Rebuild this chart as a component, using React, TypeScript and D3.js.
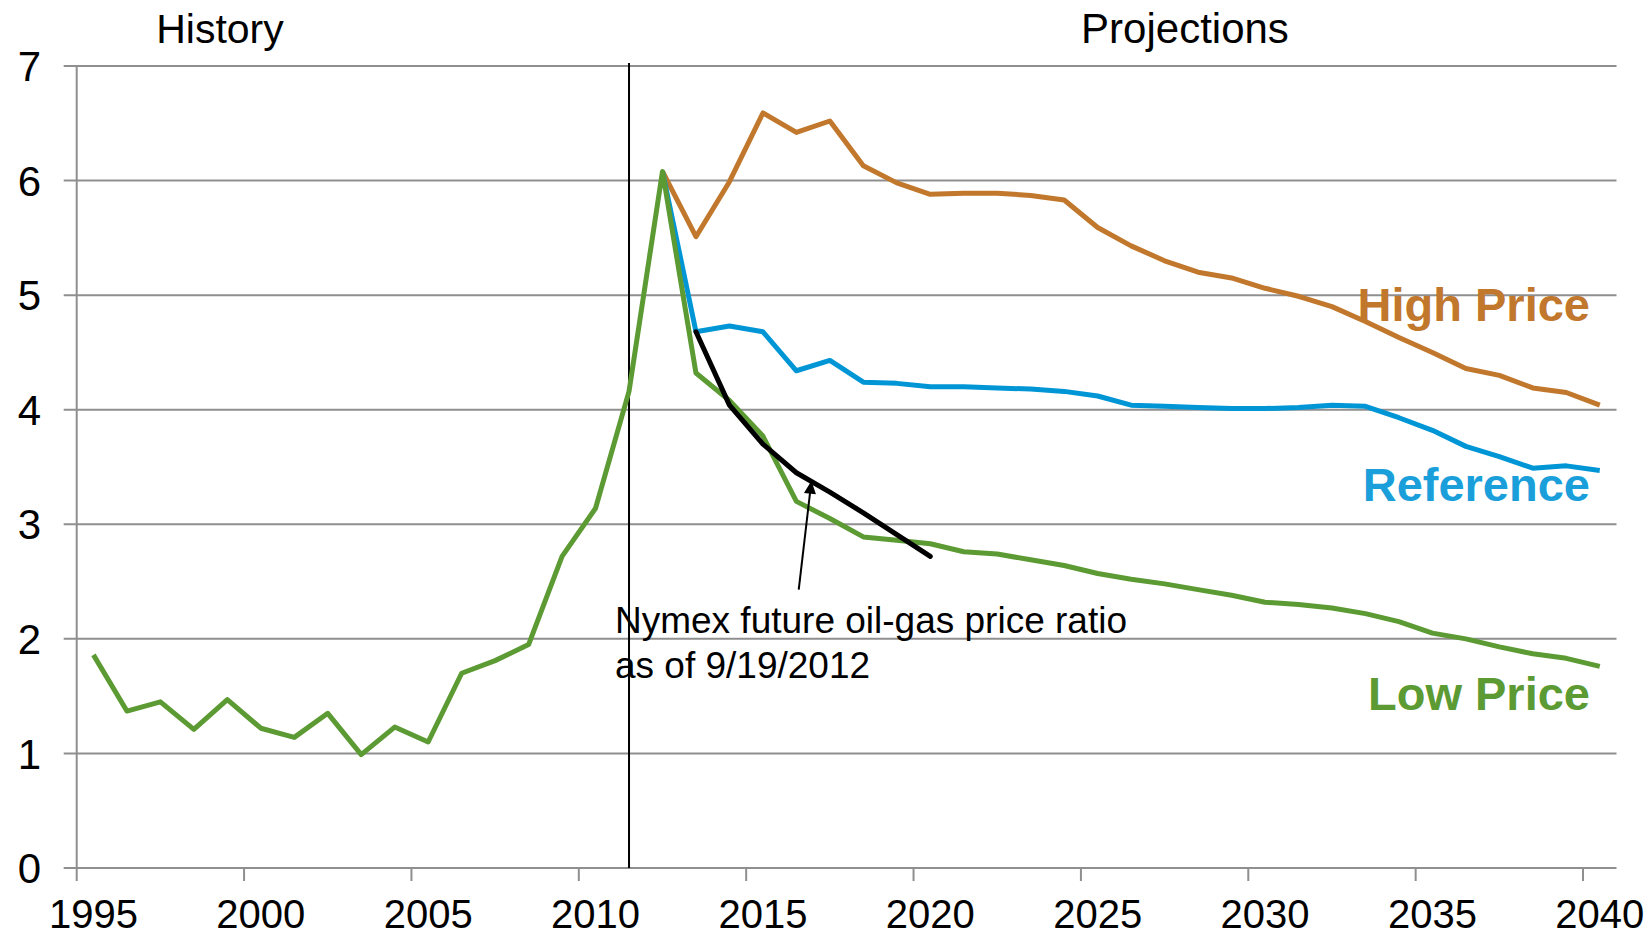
import React from "react";
import * as d3 from "d3";

// oil-to-gas price ratio, history + AEO projections
const years = d3.range(1995, 2041);
const historyValues = [1.86, 1.37, 1.45, 1.21, 1.47, 1.22, 1.14, 1.35, 0.99, 1.23, 1.1, 1.7, 1.81, 1.95, 2.72, 3.14, 4.16, 6.08]; // 1995-2012
const highPrice = [6.08, 5.51, 5.99, 6.59, 6.42, 6.52, 6.13, 5.98, 5.88, 5.89, 5.89, 5.87, 5.83, 5.59, 5.43, 5.3, 5.2, 5.15, 5.06, 4.99, 4.9, 4.77, 4.63, 4.5, 4.36, 4.3, 4.19, 4.15, 4.04]; // 2012-2040
const reference = [6.08, 4.68, 4.73, 4.68, 4.34, 4.43, 4.24, 4.23, 4.2, 4.2, 4.19, 4.18, 4.16, 4.12, 4.04, 4.03, 4.02, 4.01, 4.01, 4.02, 4.04, 4.03, 3.93, 3.82, 3.68, 3.59, 3.49, 3.51, 3.47]; // 2012-2040
const lowPrice = [4.32, 4.08, 3.77, 3.2, 3.05, 2.89, 2.86, 2.83, 2.76, 2.74, 2.69, 2.64, 2.57, 2.52, 2.48, 2.43, 2.38, 2.32, 2.3, 2.27, 2.22, 2.15, 2.05, 2.0, 1.93, 1.87, 1.83, 1.76]; // 2013-2040
const nymex = [4.68, 4.04, 3.7, 3.45, 3.28, 3.1, 2.91, 2.72]; // 2013-2020
const yTicks = [0, 1, 2, 3, 4, 5, 6, 7];
const xTickYears = [1995, 2000, 2005, 2010, 2015, 2020, 2025, 2030, 2035, 2040];

const W = 1652;
const H = 937;
const margin = { top: 66, right: 35.5, bottom: 69, left: 76.7 };

const font = "'Liberation Sans', Arial, sans-serif";
const gridColor = "#8f8f8f";
const orange = "#c1772c";
const blue = "#0096d6";
const blueText = "#1a9fdb";
const green = "#5c9a33";
const lw = 5;

export default function App() {
  // band-style axis: year Y occupies [Y, Y+1], points sit at Y + 0.5
  const x = d3.scaleLinear().domain([1995, 2041]).range([margin.left, W - margin.right]);
  const y = d3.scaleLinear().domain([0, 7]).range([H - margin.bottom, margin.top]);

  const line = d3
    .line<[number, number]>()
    .x((d) => x(d[0] + 0.5))
    .y((d) => y(d[1]));

  const lowSeries: [number, number][] = [
    ...historyValues.map((v, i) => [years[i], v] as [number, number]),
    ...lowPrice.map((v, i) => [2013 + i, v] as [number, number]),
  ];
  const refSeries = reference.map((v, i) => [2012 + i, v] as [number, number]);
  const highSeries = highPrice.map((v, i) => [2012 + i, v] as [number, number]);
  const nymexSeries = nymex.map((v, i) => [2013 + i, v] as [number, number]);

  const x0 = margin.left;
  const x1 = W - margin.right;
  const yBottom = y(0);

  // annotation arrow, in data units
  const tail = { yr: 2016.57, v: 2.43 };
  const tip = { yr: 2016.95, v: 3.38 };
  const ax = x(tip.yr), ay = y(tip.v);
  const bx = x(tail.yr), by = y(tail.v);
  const ang = Math.atan2(ay - by, ax - bx);
  const hl = 13, hw = 6;
  const head = [
    [ax, ay],
    [ax - hl * Math.cos(ang) + hw * Math.sin(ang), ay - hl * Math.sin(ang) - hw * Math.cos(ang)],
    [ax - hl * Math.cos(ang) - hw * Math.sin(ang), ay - hl * Math.sin(ang) + hw * Math.cos(ang)],
  ];

  return (
    <div>
      <style>{"body{margin:0}"}</style>
      <svg width={W} height={H} style={{ display: "block", background: "#fff" }} fontFamily={font}>
        {/* gridlines + y ticks */}
        {yTicks.map((t) => (
          <line key={"g" + t} x1={x0 - 13} x2={x1} y1={y(t)} y2={y(t)} stroke={gridColor} strokeWidth={2} />
        ))}
        {yTicks.map((t) => (
          <text key={"yl" + t} x={41} y={y(t)} dy="0.36em" textAnchor="end" fontSize={42} fill="#000">
            {t}
          </text>
        ))}
        {/* y axis */}
        <line x1={x0} x2={x0} y1={y(7)} y2={yBottom} stroke={gridColor} strokeWidth={2} />
        {/* x ticks */}
        {xTickYears.map((yr) => (
          <line key={"xt" + yr} x1={x(yr)} x2={x(yr)} y1={yBottom} y2={yBottom + 13} stroke={gridColor} strokeWidth={2} />
        ))}
        {xTickYears.map((yr) => (
          <text key={"xl" + yr} x={x(yr + 0.5)} y={928} textAnchor="middle" fontSize={40} fill="#000">
            {yr}
          </text>
        ))}

        {/* history / projections divider */}
        <line x1={x(2011.5)} x2={x(2011.5)} y1={y(7) - 3} y2={yBottom} stroke="#000" strokeWidth={2} />
        <text x={220} y={43} textAnchor="middle" fontSize={41} fill="#000">History</text>
        <text x={1185} y={43} textAnchor="middle" fontSize={42} fill="#000">Projections</text>

        {/* series */}
        <path d={line(highSeries) || ""} fill="none" stroke={orange} strokeWidth={lw} strokeLinejoin="round" />
        <path d={line(refSeries) || ""} fill="none" stroke={blue} strokeWidth={lw} strokeLinejoin="round" />
        <path d={line(lowSeries) || ""} fill="none" stroke={green} strokeWidth={lw} strokeLinejoin="round" />
        <path d={line(nymexSeries) || ""} fill="none" stroke="#000" strokeWidth={lw} strokeLinejoin="round" strokeLinecap="round" />

        {/* series labels */}
        <text x={1590} y={321} textAnchor="end" fontSize={47} fontWeight="bold" fill={orange}>High Price</text>
        <text x={1590} y={501} textAnchor="end" fontSize={47} fontWeight="bold" fill={blueText}>Reference</text>
        <text x={1590} y={710} textAnchor="end" fontSize={47} fontWeight="bold" fill={green}>Low Price</text>

        {/* annotation */}
        <line x1={bx} y1={by} x2={ax - 8 * Math.cos(ang)} y2={ay - 8 * Math.sin(ang)} stroke="#000" strokeWidth={2} />
        <polygon points={head.map((p) => p.join(",")).join(" ")} fill="#000" />
        <text x={x(2011.08)} y={y(2.05)} fontSize={37} fill="#000">
          <tspan x={x(2011.08)}>Nymex future oil-gas price ratio</tspan>
          <tspan x={x(2011.08)} dy={45}>as of 9/19/2012</tspan>
        </text>
      </svg>
    </div>
  );
}
